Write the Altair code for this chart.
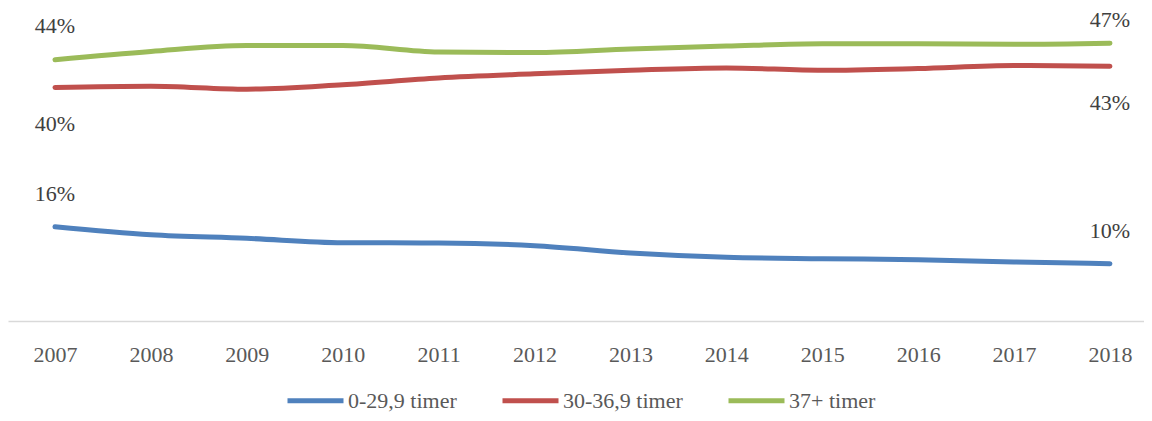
import altair as alt
import pandas as pd

years = [2007, 2008, 2009, 2010, 2011, 2012, 2013, 2014, 2015, 2016, 2017, 2018]
series_names = ["0-29,9 timer", "30-36,9 timer", "37+ timer"]
colors = ["#4F81BD", "#C0504D", "#9BBB59"]

blue = [15.98, 14.63, 14.02, 13.27, 13.22, 12.76, 11.53, 10.80, 10.56, 10.39, 10.0, 9.71]
red = [39.6, 39.8, 39.3, 40.05, 41.2, 41.9, 42.5, 42.9, 42.5, 42.8, 43.3, 43.2]
green = [44.3, 45.7, 46.7, 46.7, 45.6, 45.5, 46.1, 46.6, 47.0, 47.0, 46.9, 47.1]

rows = []
for name, vals in zip(series_names, [blue, red, green]):
    for y, v in zip(years, vals):
        rows.append({"year": y, "series": name, "value": v})
df = pd.DataFrame(rows)

FONT = "Liberation Serif"

x_scale = alt.Scale(domain=[2006.51, 2018.355], nice=False, zero=False)
y_scale = alt.Scale(domain=[0, 53.06], nice=False, zero=True)

base = alt.Chart(df)

lines = base.mark_line(strokeWidth=5, strokeCap="round", strokeJoin="round", interpolate="monotone").encode(
    x=alt.X("year:Q", scale=x_scale,
            axis=alt.Axis(values=years, format="d", title=None, grid=False, ticks=False,
                          labelFont=FONT, labelFontSize=22, labelColor="#595959",
                          labelPadding=23, labelOverlap=False, labelFlush=False,
                          domainColor="#D9D9D9", domainWidth=1.5)),
    y=alt.Y("value:Q", scale=y_scale, axis=None),
    color=alt.Color("series:N",
                    scale=alt.Scale(domain=series_names, range=colors),
                    legend=alt.Legend(title=None, orient="none", direction="horizontal",
                                      legendX=277, legendY=362, padding=0,
                                      symbolType="stroke", symbolSize=3136, symbolStrokeWidth=5,
                                      labelFont=FONT, labelFontSize=22, labelColor="#595959",
                                      labelBaseline="middle",
                                      labelOffset=2, columnPadding=35)),
)

ends = base.transform_filter(
    (alt.datum.year == years[0]) | (alt.datum.year == years[-1])
).transform_calculate(
    label="format(datum.value, '.0f') + '%'"
)

def lab(filter_expr, dy):
    return ends.transform_filter(filter_expr).mark_text(
        font=FONT, fontSize=22, color="#404040", dy=dy, baseline="middle"
    ).encode(
        x=alt.X("year:Q", scale=x_scale),
        y=alt.Y("value:Q", scale=y_scale),
        text="label:N",
    )

lab_green_start = lab((alt.datum.series == series_names[2]) & (alt.datum.year == years[0]), -34)
lab_green_end = lab((alt.datum.series == series_names[2]) & (alt.datum.year == years[-1]), -23)
lab_red = lab(alt.datum.series == series_names[1], 37)
lab_blue = lab(alt.datum.series == series_names[0], -33)

chart = alt.layer(lines, lab_green_start, lab_green_end, lab_red, lab_blue).properties(
    width=1136, height=313,
    autosize=alt.AutoSizeParams(type="none"),
    padding={"left": 0, "top": 0, "right": 0, "bottom": 92},
).configure_view(stroke=None)

chart.save("out.html", embed_options={"renderer": "svg", "actions": False})
